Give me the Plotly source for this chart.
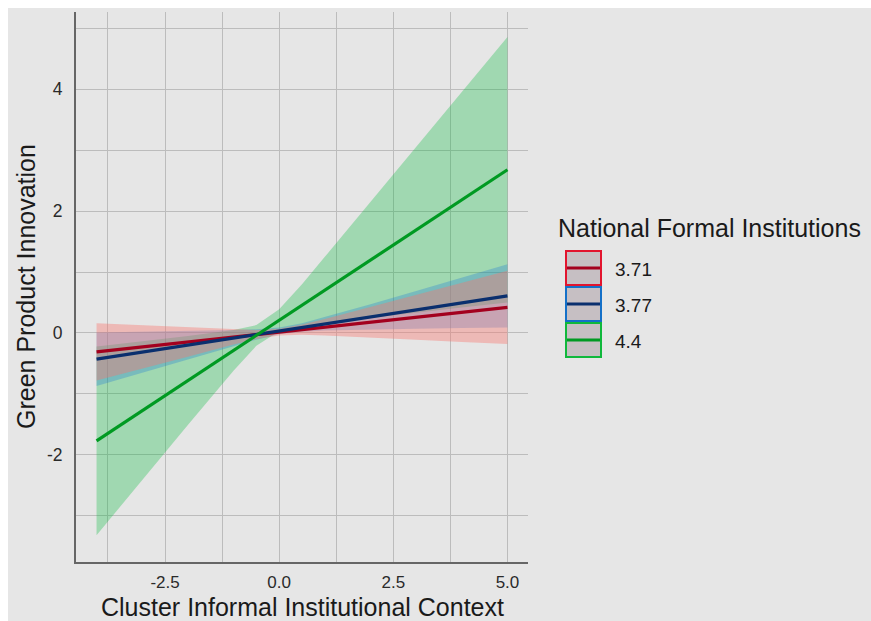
import plotly.graph_objects as go

# ---------------- data ----------------
groups = ["3.71", "3.77", "4.4"]

line_x = [-4, 5]
line_371 = [-0.31, 0.42]
line_377 = [-0.43, 0.61]
line_44 = [-1.77, 2.68]

band_x = [-4, -3, -2, -1, -0.5, 0, 0.5, 1, 2, 3, 4, 5]
lo_371 = [-0.78, -0.59, -0.39, -0.19, -0.10, -0.04, -0.03, -0.04, -0.07, -0.11, -0.15, -0.18]
hi_371 = [0.16, 0.13, 0.09, 0.06, 0.05, 0.07, 0.14, 0.23, 0.43, 0.63, 0.82, 1.02]
lo_377 = [-0.87, -0.65, -0.43, -0.21, -0.11, -0.02, 0.02, 0.04, 0.06, 0.07, 0.08, 0.09]
hi_377 = [0.01, 0.02, 0.03, 0.05, 0.06, 0.09, 0.16, 0.26, 0.47, 0.69, 0.91, 1.13]
lo_44 = [-3.32, -2.41, -1.51, -0.62, -0.21, 0.03, 0.11, 0.16, 0.25, 0.33, 0.42, 0.50]
hi_44 = [-0.22, -0.14, -0.05, 0.05, 0.13, 0.39, 0.80, 1.25, 2.15, 3.05, 3.96, 4.86]

x_ticks = [-2.5, 0.0, 2.5, 5.0]
x_ticklabels = ["-2.5", "0.0", "2.5", "5.0"]
y_ticks = [-2, 0, 2, 4]
y_ticklabels = ["-2", "0", "2", "4"]

# ---------------- styles ----------------
line_colors = {"3.71": "#a3001e", "3.77": "#0a2f6e", "4.4": "#009a22"}
fill_colors = {"3.71": "rgba(248,118,109,0.40)",
               "3.77": "rgba(30,120,215,0.30)",
               "4.4": "rgba(0,186,56,0.30)"}
key_border = {"3.71": "#e2142e", "3.77": "#1470c8", "4.4": "#10b83c"}

bands = {"3.71": (lo_371, hi_371), "3.77": (lo_377, hi_377), "4.4": (lo_44, hi_44)}
lines = {"3.71": line_371, "3.77": line_377, "4.4": line_44}

FONT = "Liberation Sans, Arial, sans-serif"
W, H = 871, 621
L, R, T, B = 76, 343, 12, 59
PW, PH = W - L - R, H - T - B
BG = "#e6e6e6"


def px(xp):
    return (xp - L) / PW


def py(yp):
    return (H - B - yp) / PH


fig = go.Figure()

for g in ["4.4", "3.77", "3.71"]:
    lo, hi = bands[g]
    fig.add_trace(go.Scatter(x=band_x, y=hi, mode="lines", line=dict(width=0),
                             showlegend=False, hoverinfo="skip"))
    fig.add_trace(go.Scatter(x=band_x, y=lo, mode="lines", line=dict(width=0),
                             fill="tonexty", fillcolor=fill_colors[g],
                             showlegend=False, hoverinfo="skip"))

for g in ["3.71", "3.77", "4.4"]:
    fig.add_trace(go.Scatter(x=line_x, y=lines[g], mode="lines",
                             line=dict(color=line_colors[g], width=3.2),
                             name=g, showlegend=False))

grid = "#bcbcbc"
fig.update_xaxes(range=[-4.45, 5.45], tickmode="array", tickvals=x_ticks,
                 ticktext=x_ticklabels, showgrid=True, gridcolor=grid, gridwidth=1,
                 minor=dict(dtick=1.25, tick0=0, showgrid=True, gridcolor=grid, gridwidth=1),
                 zeroline=False, showline=True, linecolor="#666666", linewidth=2,
                 ticks="", ticklabelstandoff=4,
                 tickfont=dict(family=FONT, size=17, color="#2a2a2a"))
fig.update_yaxes(range=[-3.76, 5.27], tickmode="array", tickvals=y_ticks,
                 ticktext=y_ticklabels, showgrid=True, gridcolor=grid, gridwidth=1,
                 minor=dict(dtick=1, tick0=0, showgrid=True, gridcolor=grid, gridwidth=1),
                 zeroline=False, showline=True, linecolor="#666666", linewidth=2,
                 ticks="", ticklabelstandoff=8,
                 tickfont=dict(family=FONT, size=17.5, color="#2a2a2a"))

title_font = dict(family=FONT, size=25, color="#1a1a1a")
annotations = [
    dict(text="Cluster Informal Institutional Context", xref="paper", yref="paper",
         x=px(302), y=py(607), xanchor="center", yanchor="middle",
         showarrow=False, font=title_font),
    dict(text="Green Product Innovation", xref="paper", yref="paper",
         x=px(26), y=py(287), xanchor="center", yanchor="middle", textangle=-90,
         showarrow=False, font=title_font),
    dict(text="National Formal Institutions", xref="paper", yref="paper",
         x=px(556), y=py(228), xanchor="left", yanchor="middle",
         showarrow=False, font=title_font),
]

shapes = [dict(type="rect", xref="paper", yref="paper",
               x0=px(8), x1=px(W + 4), y0=py(H + 4), y1=py(8),
               fillcolor=BG, line=dict(width=0), layer="below")]
key_top = [251, 287, 323]
for i, g in enumerate(groups):
    t = key_top[i]
    b = t + 34
    shapes.append(dict(type="rect", xref="paper", yref="paper",
                       x0=px(566), x1=px(601), y0=py(b), y1=py(t),
                       fillcolor="#c6bfc3", line=dict(color=key_border[g], width=2)))
    shapes.append(dict(type="line", xref="paper", yref="paper",
                       x0=px(567), x1=px(600), y0=py((t + b) / 2), y1=py((t + b) / 2),
                       line=dict(color=line_colors[g], width=3)))
    annotations.append(dict(text=g, xref="paper", yref="paper",
                            x=px(613), y=py((t + b) / 2 + 1), xanchor="left", yanchor="middle",
                            showarrow=False, font=dict(family=FONT, size=19, color="#1a1a1a")))

fig.update_layout(width=W, height=H, margin=dict(l=L, r=R, t=T, b=B, autoexpand=False),
                  paper_bgcolor="white", plot_bgcolor=BG, hovermode=False,
                  showlegend=False, shapes=shapes, annotations=annotations)

fig.write_html("out.html",
               config={"displayModeBar": False, "staticPlot": True},
               post_script="document.body.style.margin='0';"
                           "document.documentElement.style.overflow='hidden';"
                           "document.body.style.overflow='hidden';"
                           "document.body.style.background='" + BG + "';"
                           "document.documentElement.style.background='" + BG + "';")
